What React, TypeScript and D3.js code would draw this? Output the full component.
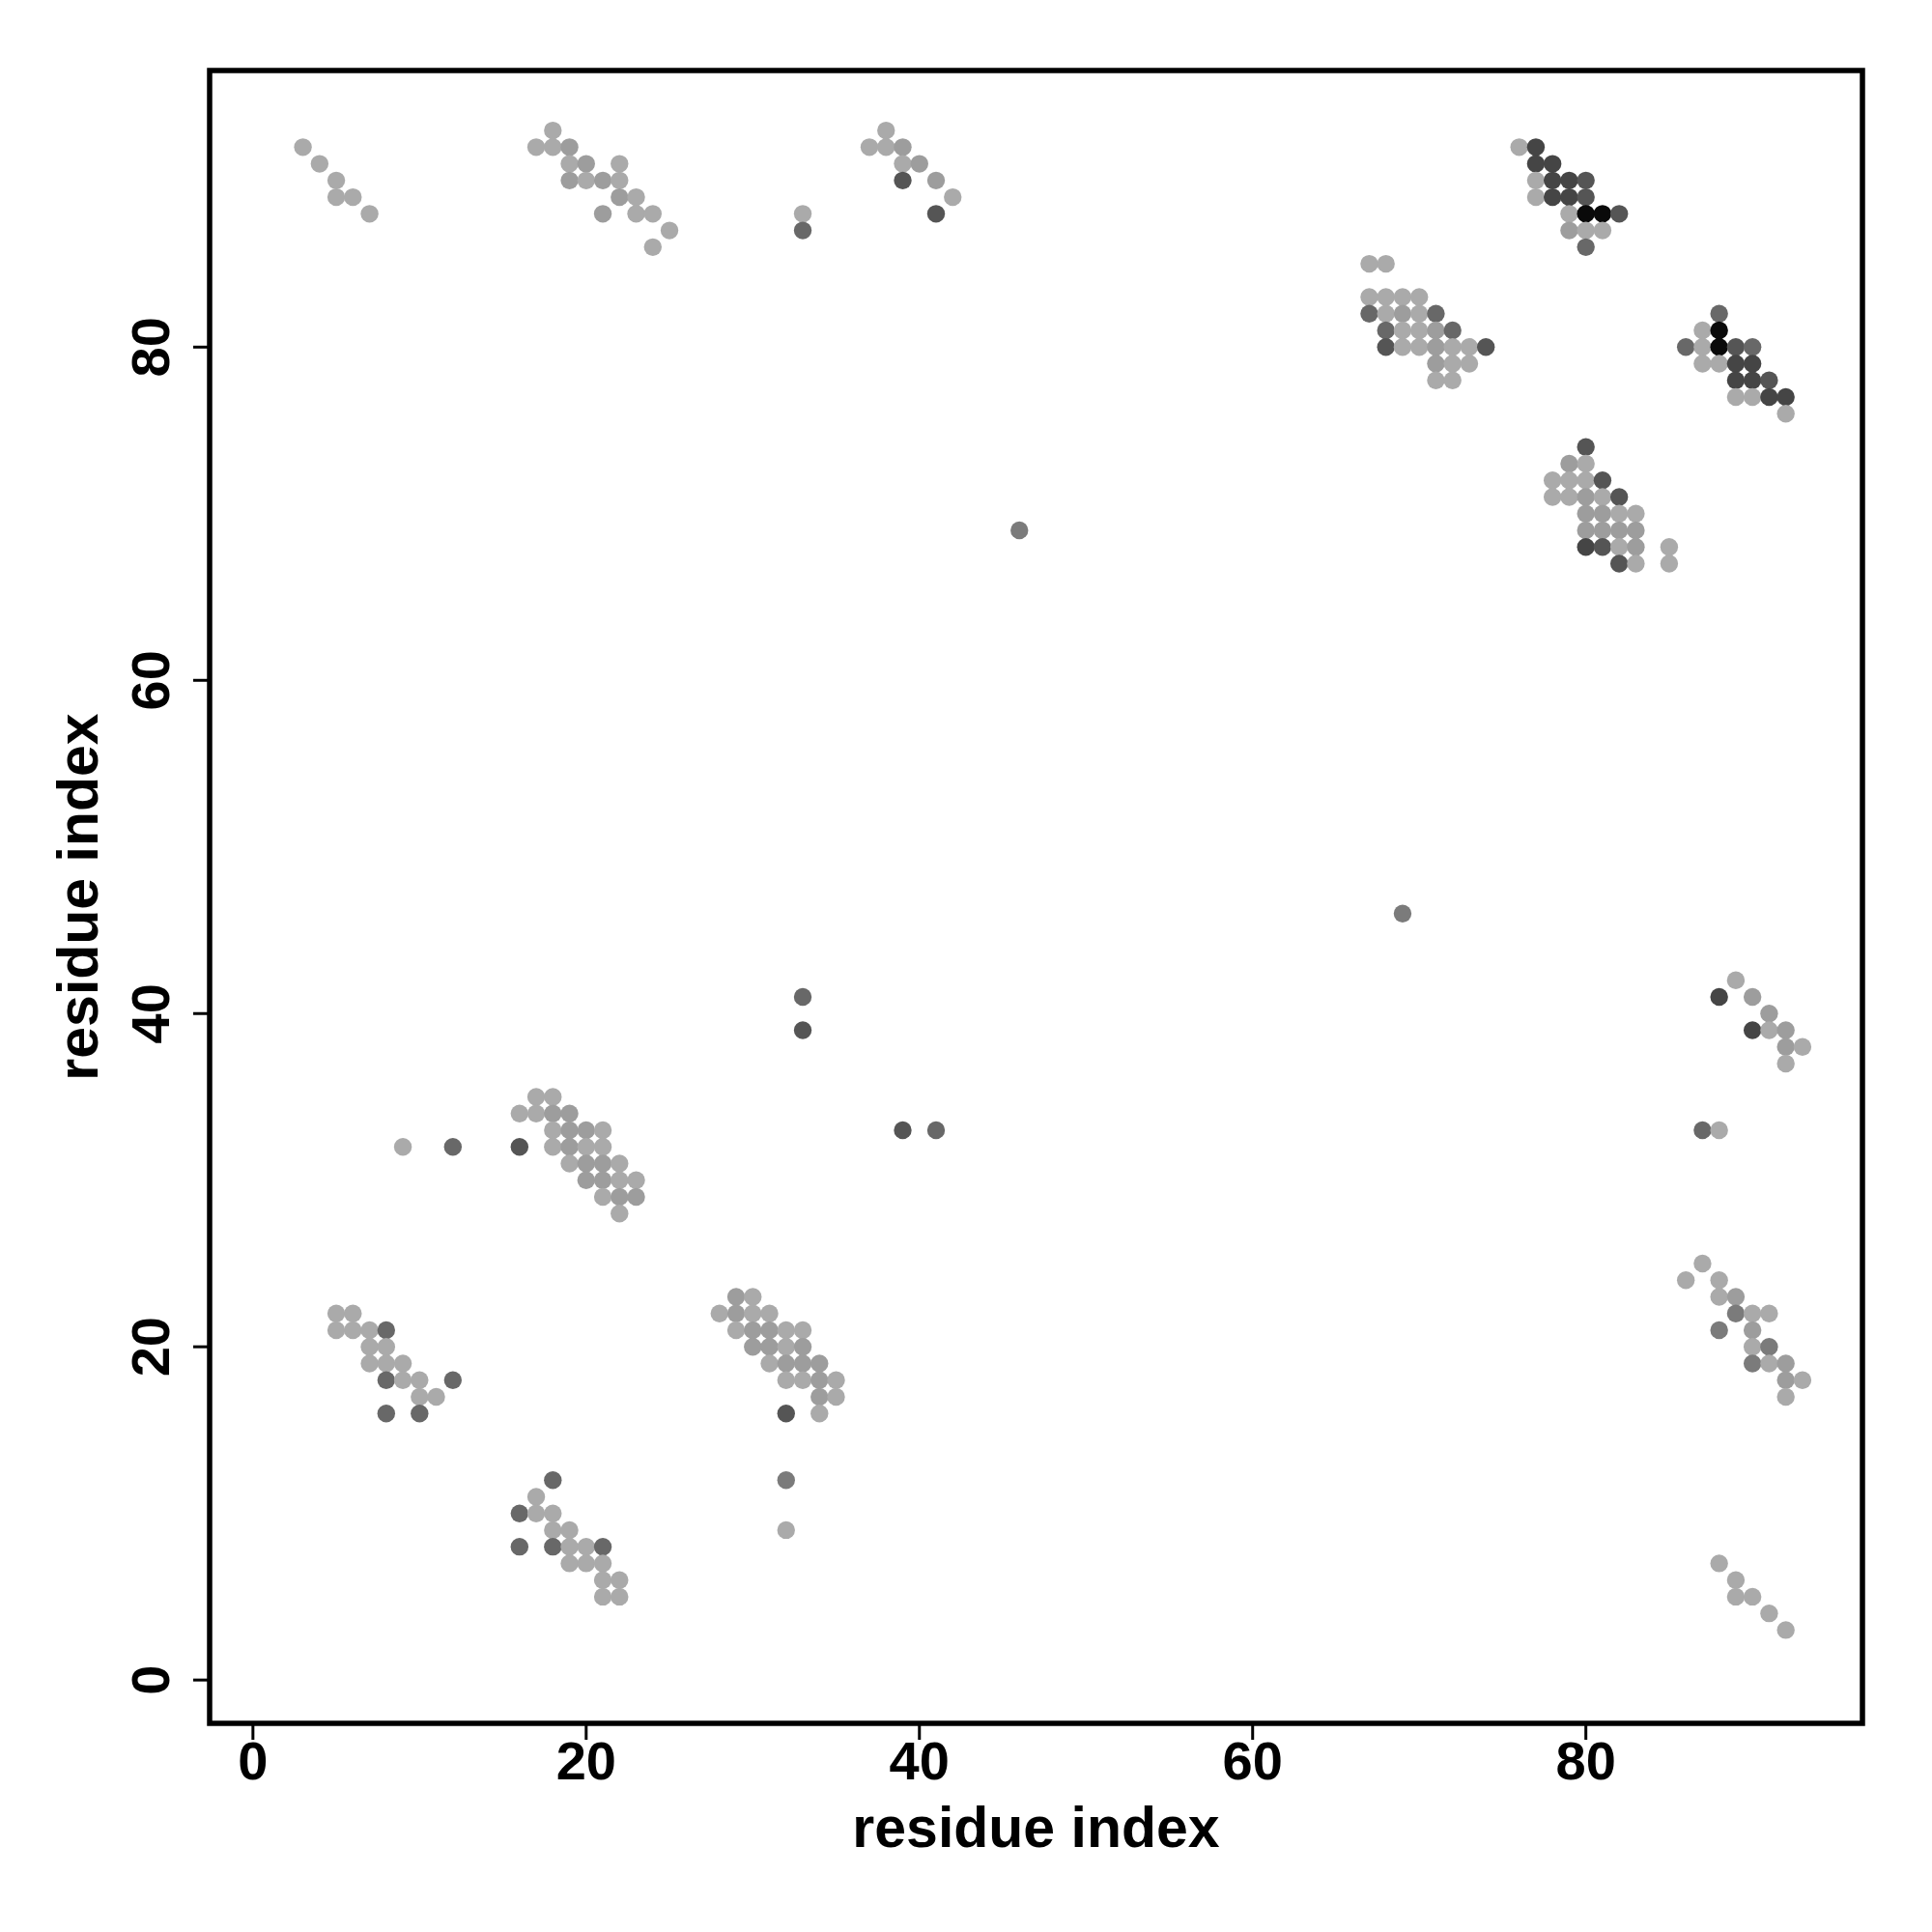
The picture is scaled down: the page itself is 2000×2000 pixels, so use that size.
import * as d3 from 'd3'
import React from 'react'

// contact map points: [residue i, residue j, level] (level = how many predictions agree)
type Contact = [number, number, number]

const topLeft: Contact[] = [
  [3, 92, 1], [4, 91, 1], [5, 90, 1], [5, 89, 1], [6, 89, 1], [7, 88, 1],
]

const topMiddle: Contact[] = [
  [18, 93, 1], [17, 92, 1], [18, 92, 1], [19, 92, 2], [19, 91, 1], [20, 91, 2], [22, 91, 1],
  [19, 90, 2], [20, 90, 1], [21, 90, 2], [22, 90, 1], [22, 89, 2], [23, 89, 1],
  [21, 88, 2], [23, 88, 1], [24, 88, 1], [25, 87, 1], [24, 86, 1],
  [33, 88, 1], [33, 87, 4],
  [38, 93, 1], [37, 92, 1], [38, 92, 1], [39, 92, 2], [39, 91, 1], [40, 91, 2],
  [39, 90, 5], [41, 90, 2], [42, 89, 1], [41, 88, 5],
]

const topRight: Contact[] = [
  [76, 92, 1], [77, 92, 6], [77, 91, 6], [78, 91, 6], [77, 90, 1], [78, 90, 6], [79, 90, 6], [80, 90, 5],
  [77, 89, 1], [78, 89, 6], [79, 89, 6], [80, 89, 5], [79, 88, 1], [80, 88, 7], [81, 88, 7], [82, 88, 5],
  [79, 87, 2], [80, 87, 1], [81, 87, 1], [80, 86, 4],
]

const upperRight: Contact[] = [
  [67, 85, 1], [68, 85, 1], [67, 83, 1], [68, 83, 1], [69, 83, 1], [70, 83, 1],
  [67, 82, 4], [68, 82, 1], [69, 82, 2], [70, 82, 1], [71, 82, 4],
  [68, 81, 4], [69, 81, 1], [70, 81, 1], [71, 81, 2], [72, 81, 4],
  [68, 80, 5], [69, 80, 1], [70, 80, 1], [71, 80, 2], [72, 80, 1], [73, 80, 1], [74, 80, 5],
  [71, 79, 2], [72, 79, 1], [73, 79, 1], [71, 78, 1], [72, 78, 1],
  [88, 82, 4], [87, 81, 1], [88, 81, 7], [86, 80, 4], [87, 80, 1], [88, 80, 7], [89, 80, 5], [90, 80, 4],
  [87, 79, 1], [88, 79, 1], [89, 79, 6], [90, 79, 6], [89, 78, 6], [90, 78, 6], [91, 78, 5],
  [89, 77, 1], [90, 77, 1], [91, 77, 6], [92, 77, 6], [92, 76, 1],
]

const middleRight: Contact[] = [
  [80, 74, 5], [79, 73, 2], [80, 73, 1], [78, 72, 1], [79, 72, 1], [80, 72, 1], [81, 72, 5],
  [78, 71, 1], [79, 71, 1], [80, 71, 2], [81, 71, 1], [82, 71, 5],
  [80, 70, 2], [81, 70, 2], [82, 70, 1], [83, 70, 1], [80, 69, 2], [81, 69, 2], [82, 69, 2], [83, 69, 2],
  [80, 68, 6], [81, 68, 5], [82, 68, 1], [83, 68, 2], [85, 68, 1], [82, 67, 5], [83, 67, 1], [85, 67, 1],
  [46, 69, 3], [69, 46, 3],
]

const lowerRight: Contact[] = [
  [89, 42, 1], [88, 41, 6], [90, 41, 2], [91, 40, 2], [90, 39, 6], [91, 39, 1], [92, 39, 2],
  [92, 38, 2], [93, 38, 1], [92, 37, 1], [87, 33, 4], [88, 33, 1],
  [87, 25, 1], [86, 24, 1], [88, 24, 1], [88, 23, 1], [89, 23, 2], [89, 22, 3], [90, 22, 1], [91, 22, 1],
  [88, 21, 3], [90, 21, 2], [90, 20, 1], [91, 20, 3], [90, 19, 3], [91, 19, 1], [92, 19, 2],
  [92, 18, 2], [93, 18, 1], [92, 17, 1],
  [88, 7, 1], [89, 6, 1], [89, 5, 1], [90, 5, 1], [91, 4, 1], [92, 3, 1],
]

const middleLeft: Contact[] = [
  [17, 35, 1], [18, 35, 1], [16, 34, 1], [17, 34, 1], [18, 34, 2], [19, 34, 2],
  [18, 33, 1], [19, 33, 2], [20, 33, 2], [21, 33, 1],
  [9, 32, 1], [12, 32, 4], [16, 32, 5], [18, 32, 1], [19, 32, 2], [20, 32, 1], [21, 32, 1],
  [19, 31, 1], [20, 31, 2], [21, 31, 2], [22, 31, 1], [20, 30, 2], [21, 30, 2], [22, 30, 1], [23, 30, 1],
  [21, 29, 1], [22, 29, 2], [23, 29, 2], [22, 28, 1],
  [33, 41, 4], [33, 39, 5], [39, 33, 5], [41, 33, 4],
]

const bottomLeft: Contact[] = [
  [5, 22, 1], [6, 22, 1], [5, 21, 1], [6, 21, 1], [7, 21, 1], [8, 21, 4], [7, 20, 1], [8, 20, 1],
  [7, 19, 1], [8, 19, 1], [9, 19, 1], [8, 18, 4], [9, 18, 1], [10, 18, 1], [12, 18, 4],
  [10, 17, 1], [11, 17, 1], [8, 16, 4], [10, 16, 4],
  [18, 12, 4], [17, 11, 1], [16, 10, 4], [17, 10, 1], [18, 10, 1], [18, 9, 1], [19, 9, 1],
  [16, 8, 4], [18, 8, 4], [19, 8, 1], [20, 8, 1], [21, 8, 4], [19, 7, 1], [20, 7, 1], [21, 7, 1],
  [21, 6, 1], [22, 6, 1], [21, 5, 1], [22, 5, 1],
]

const bottomMiddle: Contact[] = [
  [29, 23, 2], [30, 23, 1], [28, 22, 1], [29, 22, 2], [30, 22, 1], [31, 22, 1],
  [29, 21, 1], [30, 21, 2], [31, 21, 2], [32, 21, 1], [33, 21, 1],
  [30, 20, 2], [31, 20, 2], [32, 20, 1], [33, 20, 2], [31, 19, 1], [32, 19, 2], [33, 19, 2], [34, 19, 2],
  [32, 18, 1], [33, 18, 1], [34, 18, 2], [35, 18, 1], [34, 17, 2], [35, 17, 1], [32, 16, 5], [34, 16, 1],
  [32, 12, 3], [32, 9, 1],
]

const levels = [1, 2, 3, 4, 5, 6, 7]
const ticks = [0, 20, 40, 60, 80]

const contacts: Contact[] = [
  ...topLeft, ...topMiddle, ...topRight, ...upperRight, ...middleRight,
  ...lowerRight, ...middleLeft, ...bottomLeft, ...bottomMiddle,
]

export default function App() {
  const width = 2000
  const height = 2000
  const left = 217
  const right = 1928
  const top = 73
  const bottom = 1784
  const font = '"Liberation Sans", Arial, Helvetica, sans-serif'

  const x = d3.scaleLinear().domain([-2.6, 96.6]).range([left, right])
  const y = d3.scaleLinear().domain([-2.6, 96.6]).range([bottom, top])
  const color = d3
    .scaleOrdinal<number, string>()
    .domain(levels)
    .range(['#aaaaaa', '#9d9d9d', '#7b7b7b', '#686868', '#555555', '#454545', '#0a0a0a'])

  return (
    <svg
      width={width}
      height={height}
      style={{ position: 'absolute', left: 0, top: 0, background: '#fff' }}
      fontFamily={font}
    >
      <rect x={0} y={0} width={width} height={height} fill="#fff" />
      <g>
        {contacts.map(([i, j, n], k) => (
          <circle key={k} cx={x(i)} cy={y(j)} r={9.2} fill={color(n)} />
        ))}
      </g>
      <rect x={left} y={top} width={right - left} height={bottom - top} fill="none" stroke="#000" strokeWidth={5.5} />
      {ticks.map(t => (
        <g key={'x' + t}>
          <line x1={x(t)} x2={x(t)} y1={bottom} y2={bottom + 17} stroke="#000" strokeWidth={3} />
          <text x={x(t)} y={1842} textAnchor="middle" fontSize={56} fontWeight="bold">
            {t}
          </text>
        </g>
      ))}
      {ticks.map(t => (
        <g key={'y' + t}>
          <line x1={left - 17} x2={left} y1={y(t)} y2={y(t)} stroke="#000" strokeWidth={3} />
          <text
            transform={`translate(175,${y(t)}) rotate(-90)`}
            textAnchor="middle"
            fontSize={56}
            fontWeight="bold"
          >
            {t}
          </text>
        </g>
      ))}
      <text x={(left + right) / 2} y={1912} textAnchor="middle" fontSize={59} fontWeight="bold">
        residue index
      </text>
      <text
        transform={`translate(101,${(top + bottom) / 2}) rotate(-90)`}
        textAnchor="middle"
        fontSize={59}
        fontWeight="bold"
      >
        residue index
      </text>
    </svg>
  )
}
